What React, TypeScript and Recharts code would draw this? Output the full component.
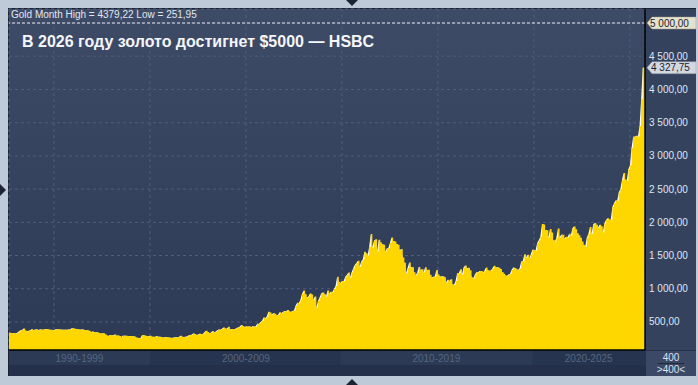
import { AreaChart, Area, XAxis, YAxis, CartesianGrid, ReferenceLine } from "recharts";

// monthly closes, index 0 = Jul 1992
const gold1990s = [
  357, 340, 349, 339, 334, 333,
  330, 327, 337, 355, 377, 378, 401, 372, 355, 369, 370, 391,
  378, 381, 391, 376, 387, 386, 384, 385, 394, 389, 383, 383,
  375, 376, 392, 389, 385, 387, 383, 382, 384, 383, 387, 387,
  405, 400, 396, 392, 391, 382, 385, 387, 379, 379, 371, 369,
  345, 358, 348, 340, 345, 334, 326, 325, 332, 311, 296, 290,
  304, 297, 301, 310, 293, 296, 288, 273, 293, 292, 294, 288,
  287, 287, 280, 286, 268, 261, 255, 254, 299, 299, 292, 290,
];
const gold2000s = [
  283, 293, 278, 276, 272, 288, 277, 277, 273, 264, 270, 272,
  265, 267, 258, 264, 266, 270, 266, 273, 293, 279, 275, 277,
  282, 297, 302, 308, 326, 318, 304, 312, 323, 317, 318, 347,
  368, 349, 334, 337, 364, 346, 354, 375, 388, 384, 398, 416,
  400, 397, 427, 388, 394, 395, 391, 408, 416, 428, 453, 438,
  422, 435, 429, 436, 417, 435, 430, 433, 473, 470, 495, 517,
  568, 556, 582, 654, 643, 614, 633, 623, 599, 604, 646, 632,
  650, 665, 663, 679, 659, 650, 666, 672, 743, 789, 783, 834,
  923, 972, 916, 863, 885, 930, 913, 833, 884, 716, 815, 869,
  927, 942, 916, 883, 975, 927, 955, 949, 996, 1040, 1182, 1104,
];
const gold2010s = [
  1081, 1116, 1113, 1180, 1207, 1244, 1169, 1246, 1307, 1357, 1386, 1421,
  1332, 1410, 1439, 1556, 1536, 1500, 1628, 1826, 1620, 1722, 1746, 1564,
  1738, 1697, 1668, 1664, 1560, 1604, 1614, 1692, 1772, 1719, 1711, 1675,
  1664, 1578, 1598, 1472, 1393, 1234, 1312, 1395, 1327, 1323, 1250, 1202,
  1240, 1326, 1284, 1295, 1250, 1322, 1282, 1287, 1211, 1171, 1182, 1184,
  1283, 1213, 1183, 1183, 1190, 1172, 1095, 1135, 1115, 1142, 1065, 1061,
  1116, 1238, 1233, 1294, 1215, 1321, 1351, 1309, 1316, 1277, 1174, 1152,
  1211, 1249, 1249, 1268, 1268, 1242, 1270, 1321, 1280, 1271, 1275, 1303,
  1345, 1318, 1325, 1315, 1298, 1253, 1224, 1201, 1192, 1215, 1223, 1282,
  1321, 1313, 1292, 1284, 1305, 1409, 1413, 1520, 1472, 1513, 1464, 1517,
];
const gold2020s = [
  1587, 1585, 1577, 1687, 1730, 1781, 1975, 1967, 1886, 1879, 1776, 1898,
  1847, 1734, 1708, 1769, 1906, 1770, 1814, 1813, 1757, 1783, 1774, 1829,
  1796, 1909, 1937, 1897, 1837, 1807, 1766, 1711, 1660, 1633, 1768, 1824,
  1928, 1827, 1969, 1990, 1963, 1919, 1965, 1940, 1849, 1983, 2036, 2063,
  2039, 2044, 2230, 2286, 2327, 2326, 2447, 2503, 2634, 2744, 2643, 2625,
  2798, 2858, 3124, 3289, 3289, 3303, 3290, 3448, 3858, 4327.75,
];

const monthHigh = 4379.22;
const monthLow = 251.95;
const lastPrice = 4327.75;
const targetPrice = 5000;
const barCount = 400;
const priceTicks = [500, 1000, 1500, 2000, 2500, 3000, 3500, 4000, 4500, 5000];
const decadeLabels = ["1990-1999", "2000-2009", "2010-2019", "2020-2025"];
const decadeStartIdx = [-29, 91, 210, 330];
const gridIdx = [31, 91, 151, 211, 271, 331, 391]; // 5-year marks
const title = "В 2026 году золото достигнет $5000 — HSBC";

const xDomain = [2.9, 400.4];
const yDomain = [78, 5211];

const prices = [...gold1990s, ...gold2000s, ...gold2010s, ...gold2020s];
const chartData = [
  ...prices.map((v, i) => ({ i, v })),
  { i: xDomain[1], v: prices[prices.length - 1] },
];

const plotWidth = 636;
const pxPerMonth = plotWidth / (xDomain[1] - xDomain[0]);
const font = "'Liberation Sans', Arial, sans-serif";

const decadeCenters = decadeStartIdx.map((s) => {
  const a = Math.max(s, xDomain[0]);
  const b = Math.min(s + 120, xDomain[1]);
  return (a + b) / 2;
});

const fmt = (v: number) => {
  const [int, dec] = v.toFixed(2).split(".");
  return int.replace(/\B(?=(\d{3})+(?!\d))/g, " ") + "," + dec;
};

function PriceTick(props: any) {
  const { x, y, payload } = props;
  const v = payload.value;
  if (v === targetPrice) {
    return (
      <g>
        <polygon
          points={`${x - 2},${y} ${x + 3},${y - 6} ${x + 47},${y - 6} ${x + 47},${y + 6} ${x + 3},${y + 6}`}
          fill="#e4e2cc"
          stroke="#9a9a88"
          strokeWidth={0.5}
        />
        <text x={x + 1} y={y} dy={3.5} fill="#1b2232" fontSize={10} fontFamily={font}>
          {fmt(v)}
        </text>
      </g>
    );
  }
  return (
    <text x={x} y={y} dy={3.5} fill="#dfe6f1" fontSize={10} fontFamily={font}>
      {fmt(v)}
    </text>
  );
}

function LastPriceFlag(props: any) {
  const { viewBox } = props;
  const x = viewBox.x + viewBox.width + 2;
  const y = viewBox.y;
  return (
    <g>
      <polygon
        points={`${x},${y} ${x + 5},${y - 6} ${x + 49},${y - 6} ${x + 49},${y + 6} ${x + 5},${y + 6}`}
        fill="#d3d8e0"
        stroke="#8a94a6"
        strokeWidth={0.5}
      />
      <text x={x + 4} y={y} dy={3.5} fill="#1b2232" fontSize={10} fontFamily={font}>
        {fmt(lastPrice)}
      </text>
    </g>
  );
}

function DecadeTick(props: any) {
  const { x, y, index } = props;
  const start = Math.max(decadeStartIdx[index], xDomain[0]);
  const end = Math.min(decadeStartIdx[index] + 120, xDomain[1]);
  const center = decadeCenters[index];
  const left = x + (start - center) * pxPerMonth;
  const right = x + (end - center) * pxPerMonth;
  return (
    <g>
      {index % 2 === 0 && (
        <rect x={left} y={y + 1} width={right - left} height={14} fill="#2c3a56" />
      )}
      <text x={x} y={y + 8} dy={3.5} textAnchor="middle" fill="#56667f" fontSize={10} fontFamily={font}>
        {decadeLabels[index]}
      </text>
    </g>
  );
}

const tri = (style: any) => (
  <div style={{ position: "absolute", width: 0, height: 0, ...style }} />
);

export default function App() {
  return (
    <div
      style={{
        position: "relative",
        width: 698,
        height: 385,
        background: "#bfcad8",
        overflow: "hidden",
        fontFamily: font,
      }}
    >
      <style>{"body{margin:0}"}</style>
      <div
        style={{
          position: "absolute",
          left: 8,
          top: 8,
          width: 688,
          height: 368,
          background: "#24304a",
          boxShadow: "inset 1px 1px 0 #1b2333",
        }}
      />
      <div
        style={{
          position: "absolute",
          left: 9,
          top: 9,
          width: 636,
          height: 341,
          background: "linear-gradient(#3e4b67, #2d3a56)",
        }}
      />
      <div
        style={{ position: "absolute", left: 646, top: 9, width: 50, height: 341, background: "#35425e" }}
      />
      <div
        style={{ position: "absolute", left: 9, top: 351, width: 687, height: 14, background: "#27344f" }}
      />
      <div style={{ position: "absolute", left: 8, top: 8 }}>
        <AreaChart width={688} height={368} data={chartData} margin={{ top: 1, right: 0, bottom: 0, left: 1 }}>
          <XAxis
            xAxisId="grid"
            dataKey="i"
            type="number"
            domain={xDomain}
            allowDataOverflow
            ticks={gridIdx}
            hide
          />
          <CartesianGrid
            xAxisId="grid"
            stroke="#4f5e7b"
            strokeDasharray="3 3"
          />
          <XAxis
            dataKey="i"
            type="number"
            domain={xDomain}
            allowDataOverflow
            ticks={decadeCenters}
            interval={0}
            height={26}
            tickSize={0}
            tickMargin={0}
            tickLine={false}
            axisLine={{ stroke: "#000", strokeWidth: 1.5 }}
            tick={<DecadeTick />}
          />
          <YAxis
            orientation="right"
            type="number"
            domain={yDomain}
            allowDataOverflow
            ticks={priceTicks}
            interval={0}
            width={51}
            tickSize={0}
            tickMargin={4}
            tickLine={false}
            axisLine={{ stroke: "#000", strokeWidth: 1.5 }}
            tick={<PriceTick />}
          />
          <Area
            type="linear"
            dataKey="v"
            fill="#ffffff"
            fillOpacity={1}
            stroke="none"
            isAnimationActive={false}
          />
          <Area
            type="stepAfter"
            dataKey="v"
            fill="#ffd700"
            fillOpacity={1}
            stroke="none"
            isAnimationActive={false}
          />
          <ReferenceLine y={targetPrice} stroke="#e6eaf2" strokeDasharray="3 2" />
          <ReferenceLine y={lastPrice} stroke="none" label={<LastPriceFlag />} />
        </AreaChart>
      </div>
      <div
        style={{
          position: "absolute",
          left: 646,
          top: 351,
          width: 50,
          height: 25,
          background: "#3b4866",
          color: "#dbe3ee",
          fontSize: 10,
          textAlign: "center",
          lineHeight: "11px",
        }}
      >
        <div style={{ paddingTop: 1 }}>{barCount}</div>
        <div style={{ margin: "0 12px", borderTop: "1px solid #1f2838" }} />
        <div>&gt;{barCount}&lt;</div>
      </div>
      <div
        style={{
          position: "absolute",
          left: 11,
          top: 10,
          fontSize: 10,
          lineHeight: "10px",
          color: "#e0e7f1",
          whiteSpace: "nowrap",
        }}
      >
        Gold Month High = {fmt(monthHigh).replace(" ", "")} Low = {fmt(monthLow)}
      </div>
      <div
        style={{
          position: "absolute",
          left: 22,
          top: 34,
          fontSize: 16,
          lineHeight: "16px",
          fontWeight: "bold",
          color: "#f4f6fa",
          whiteSpace: "nowrap",
        }}
      >
        {title}
      </div>
      {tri({ left: 346, top: 0, borderLeft: "6px solid transparent", borderRight: "6px solid transparent", borderTop: "6px solid #1c2433" })}
      {tri({ left: 346, top: 379, borderLeft: "6px solid transparent", borderRight: "6px solid transparent", borderBottom: "6px solid #1c2433" })}
      {tri({ left: 0, top: 184, borderTop: "6px solid transparent", borderBottom: "6px solid transparent", borderLeft: "6px solid #1c2433" })}
    </div>
  );
}
